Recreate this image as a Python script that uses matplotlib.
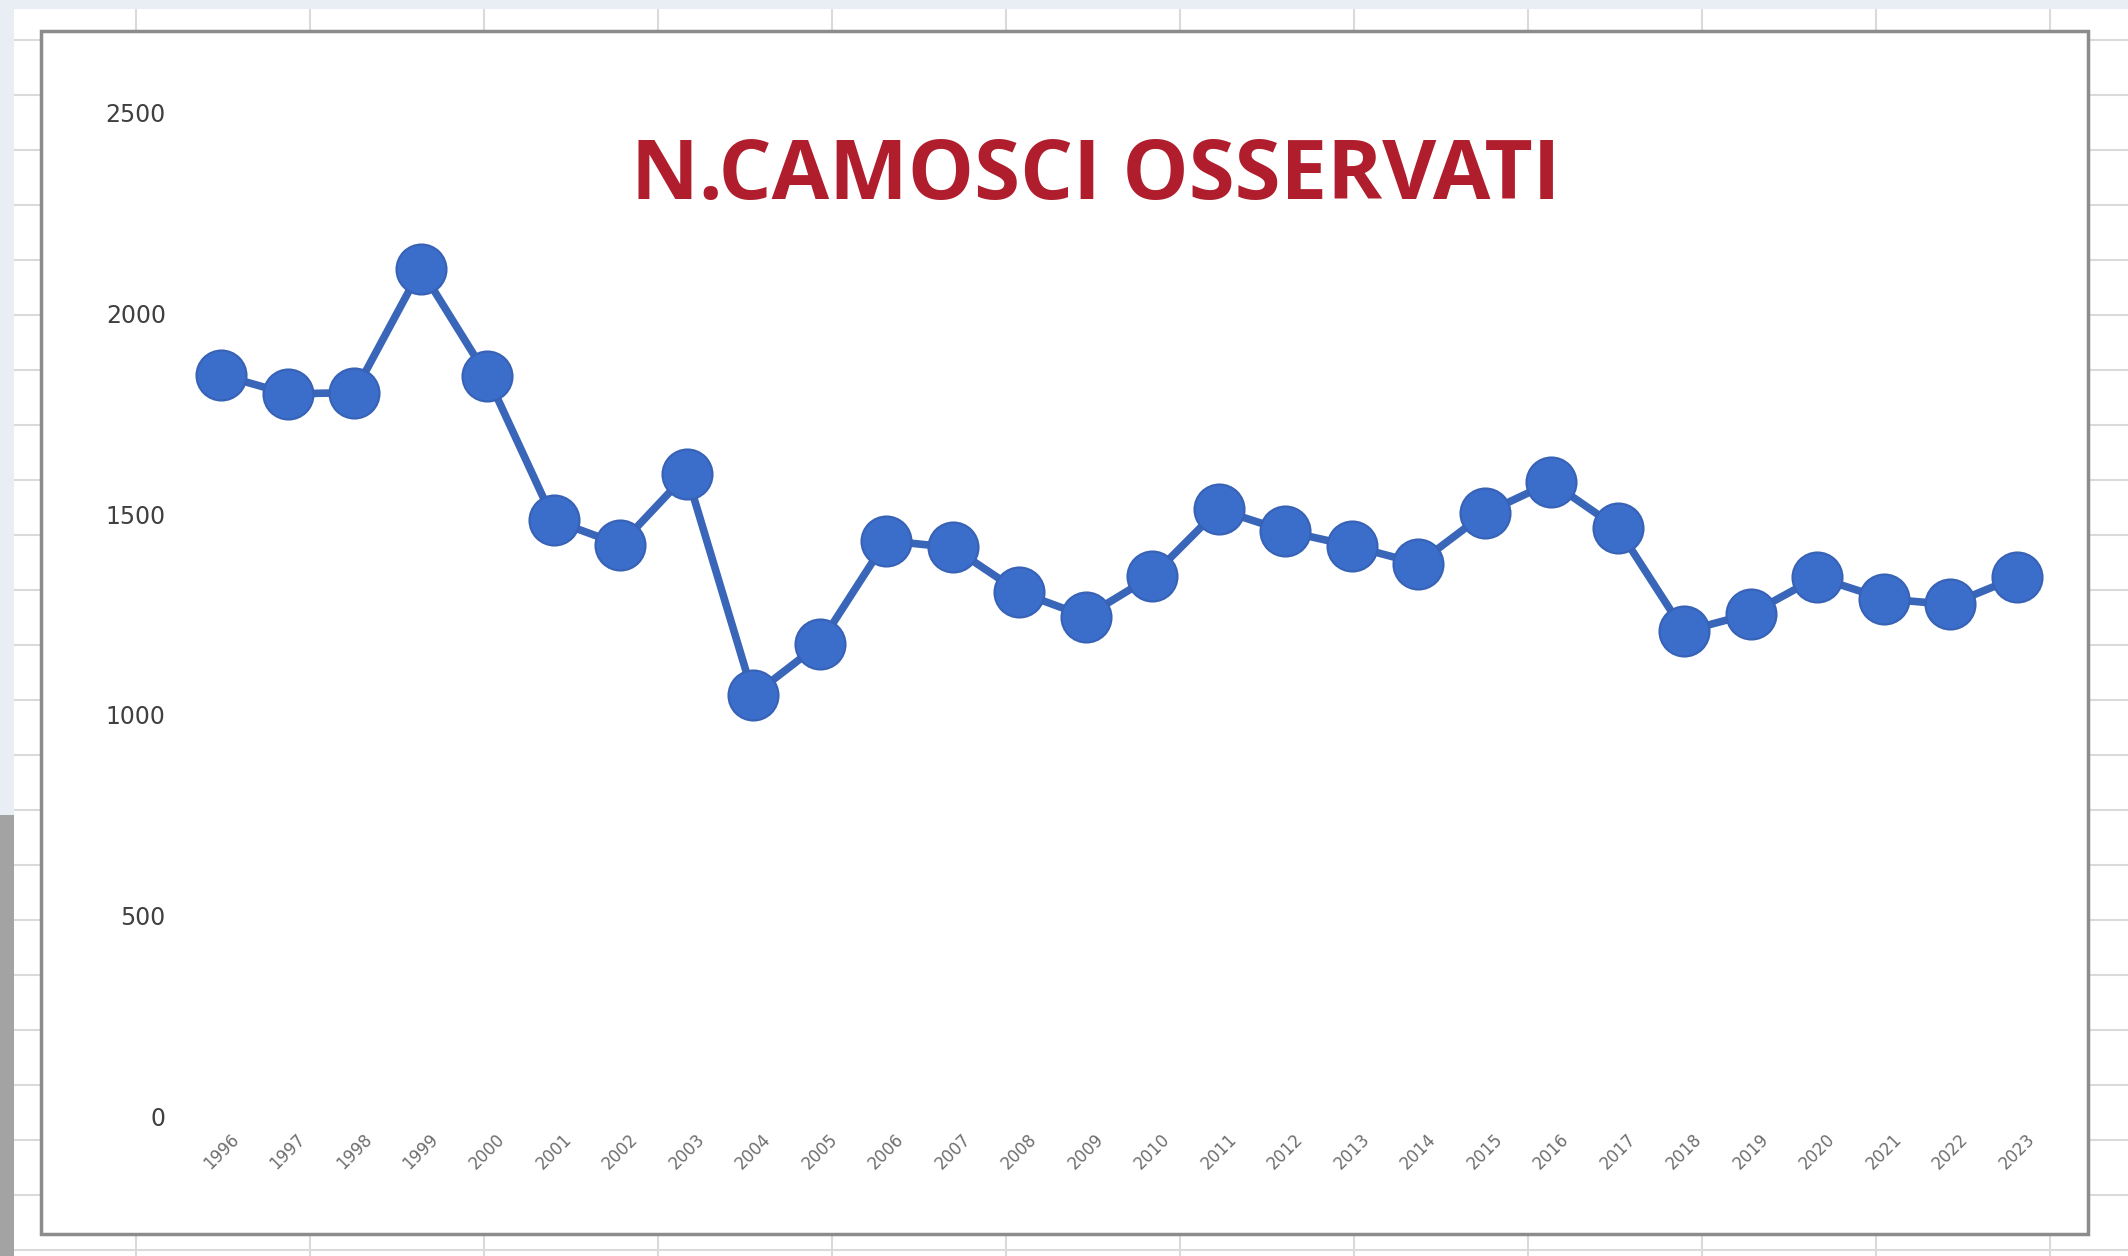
import matplotlib

matplotlib.use("Agg")
import matplotlib.pyplot as plt
from matplotlib.lines import Line2D
from matplotlib.patches import Rectangle

# data
years = [str(y) for y in range(1996, 2024)]
camosci = [1847, 1800, 1803, 2111, 1844, 1485, 1424, 1600, 1049, 1177,
           1434, 1417, 1306, 1245, 1346, 1512, 1458, 1421, 1377, 1502,
           1580, 1465, 1208, 1252, 1343, 1289, 1275, 1343]
y_ticks = [0, 500, 1000, 1500, 2000, 2500]

W, H = 2128, 1256
fig = plt.figure(figsize=(W / 100, H / 100), dpi=100)
fig.patch.set_facecolor("white")

# spreadsheet backdrop
grid_col = "#dadada"
for xp in range(136, W, 174):
    fig.add_artist(Line2D([xp / W, xp / W], [0, 1], color=grid_col, lw=1.5, zorder=0))
for yp in range(40, H, 55):
    fig.add_artist(Line2D([0, 1], [1 - yp / H, 1 - yp / H], color=grid_col, lw=1.5, zorder=0))
fig.add_artist(Rectangle((0, 1 - 9 / H), 1, 9 / H, transform=fig.transFigure,
                         facecolor="#e8eef3", edgecolor="none", zorder=0.5))
fig.add_artist(Rectangle((0, 0), 14 / W, 1, transform=fig.transFigure,
                         facecolor="#e8eef3", edgecolor="none", zorder=0.5))
fig.add_artist(Rectangle((0, 0), 14 / W, 1 - 815 / H, transform=fig.transFigure,
                         facecolor="#a3a3a3", edgecolor="none", zorder=0.6))

# chart area
fig.add_artist(Rectangle((41 / W, 1 - 1234 / H), (2088 - 41) / W, (1234 - 31) / H,
                         transform=fig.transFigure, facecolor="white",
                         edgecolor="#8c8c8c", lw=2.5, zorder=1))

ax = fig.add_axes([188 / W, 1 - 1116 / H, (2050 - 188) / W, (1116 - 113) / H])
ax.set_zorder(2)
ax.patch.set_alpha(0)

x = list(range(len(years)))
ax.plot(x, camosci, color="#3a66b9", lw=5.5, marker="o", markersize=36,
        markerfacecolor="#3b6dca", markeredgecolor="#3762b5", markeredgewidth=1.5,
        solid_joinstyle="round")

ax.set_xlim(-0.5, len(years) - 0.5)
ax.set_ylim(0, 2500)
ax.set_yticks(y_ticks)
ax.set_yticklabels([str(v) for v in y_ticks], fontsize=17, color="#404040")
ax.set_xticks(x)
ax.set_xticklabels(years, rotation=45, ha="center", va="top", fontsize=12, color="#6e6e6e")
ax.tick_params(axis="y", length=0, pad=16)
ax.tick_params(axis="x", length=0, pad=10)
for s in ax.spines.values():
    s.set_visible(False)

fig.text(1096 / W, 1 - 178 / H, "N.CAMOSCI OSSERVATI", ha="center", va="center",
         fontsize=60, fontweight="bold", color="#b01e2d", family="Open Sans", zorder=3)

fig.savefig("out.png", dpi=100)
plt.close(fig)
